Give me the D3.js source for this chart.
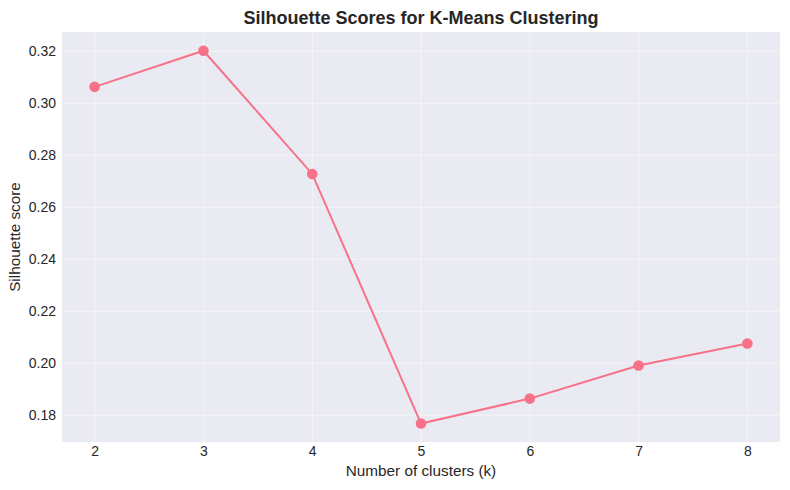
<!DOCTYPE html>
<html>
<head>
<meta charset="utf-8">
<script src="https://cdn.jsdelivr.net/npm/d3@7"></script>
<style>
  body { margin: 0; background: #fff; }
  text { font-family: "Liberation Sans", Arial, sans-serif; fill: #262626; }
</style>
</head>
<body>
<div id="vis"></div>
<script>
// data
const clusters = [2, 3, 4, 5, 6, 7, 8];
const scores = [0.3063, 0.3202, 0.2728, 0.1768, 0.1864, 0.1991, 0.2076];
const yTicks = [0.18, 0.20, 0.22, 0.24, 0.26, 0.28, 0.30, 0.32];

const margin = {top: 32, right: 10, bottom: 48, left: 62};
const width = 790 - margin.left - margin.right;
const height = 490 - margin.top - margin.bottom;

const svg = d3.select('#vis')
    .append('svg')
    .attr('width', 790)
    .attr('height', 490);

const g = svg.append('g')
    .attr('transform', `translate(${margin.left},${margin.top})`);

// scales, with matplotlib-like padding
const xScale = d3.scaleLinear().domain([1.7, 8.3]).range([0, width]);
const yScale = d3.scaleLinear().domain([0.1697, 0.3274]).range([height, 0]);

// background
g.append('rect')
    .attr('width', width)
    .attr('height', height)
    .attr('fill', '#EAEAF2');

// grid
g.append('g').selectAll('line')
    .data(clusters)
    .join('line')
    .attr('x1', d => xScale(d)).attr('x2', d => xScale(d))
    .attr('y1', 0).attr('y2', height)
    .attr('stroke', '#fff').attr('stroke-opacity', 0.6).attr('stroke-width', 0.8);

g.append('g').selectAll('line')
    .data(yTicks)
    .join('line')
    .attr('x1', 0).attr('x2', width)
    .attr('y1', d => yScale(d)).attr('y2', d => yScale(d))
    .attr('stroke', '#fff').attr('stroke-opacity', 0.6).attr('stroke-width', 0.8);

// axes (labels only, no ticks or domain)
const xAxis = d3.axisBottom(xScale).tickValues(clusters).tickFormat(d3.format('d')).tickSize(0).tickPadding(4);
g.append('g')
    .attr('transform', `translate(0,${height})`)
    .call(xAxis)
    .call(a => a.select('.domain').remove())
    .selectAll('text').style('font-size', '14px').attr('fill', '#262626');

const yAxis = d3.axisLeft(yScale).tickValues(yTicks).tickFormat(d3.format('.2f')).tickSize(0).tickPadding(6);
g.append('g')
    .call(yAxis)
    .call(a => a.select('.domain').remove())
    .selectAll('text').style('font-size', '14px').attr('fill', '#262626');

// line + markers
const line = d3.line()
    .x((d, i) => xScale(clusters[i]))
    .y(d => yScale(d));

g.append('path')
    .datum(scores)
    .attr('d', line)
    .attr('fill', 'none')
    .attr('stroke', '#F77189')
    .attr('stroke-width', 2);

g.selectAll('.point')
    .data(scores)
    .join('circle')
    .attr('class', 'point')
    .attr('cx', (d, i) => xScale(clusters[i]))
    .attr('cy', d => yScale(d))
    .attr('r', 5.3)
    .attr('fill', '#F77189');

// title and axis labels
svg.append('text')
    .attr('x', margin.left + width / 2)
    .attr('y', 24)
    .attr('text-anchor', 'middle')
    .style('font-size', '18px')
    .style('font-weight', 'bold')
    .text('Silhouette Scores for K-Means Clustering');

svg.append('text')
    .attr('x', margin.left + width / 2)
    .attr('y', 476)
    .attr('text-anchor', 'middle')
    .style('font-size', '15.3px')
    .text('Number of clusters (k)');

svg.append('text')
    .attr('transform', 'rotate(-90)')
    .attr('x', -(margin.top + height / 2))
    .attr('y', 20)
    .attr('text-anchor', 'middle')
    .style('font-size', '15.3px')
    .text('Silhouette score');
</script>
</body>
</html>
